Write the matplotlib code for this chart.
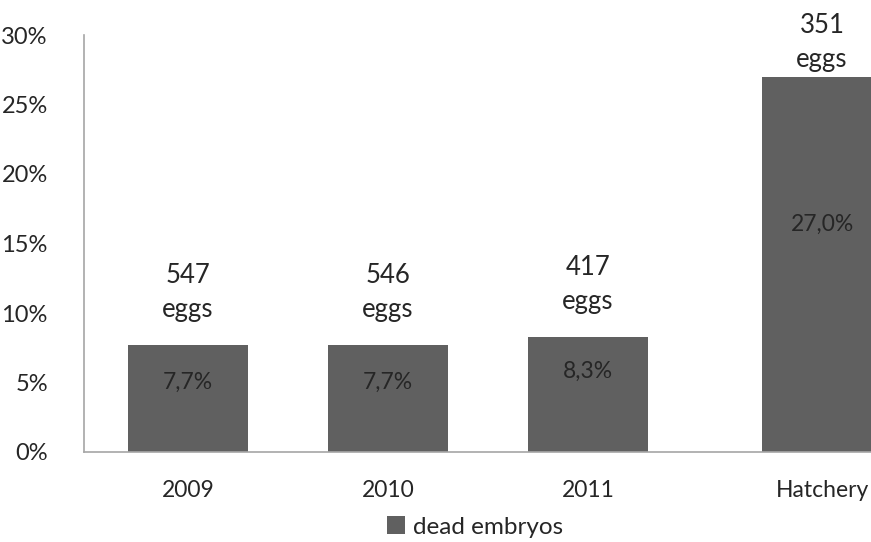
import numpy as np
import matplotlib
matplotlib.use("Agg")
import matplotlib.pyplot as plt

# Data
categories = ["2009", "2010", "2011", "Hatchery"]
dead_pct = [7.7, 7.7, 8.3, 27.0]
egg_counts = [547, 546, 417, 351]
value_labels = ["7,7%", "7,7%", "8,3%", "27,0%"]
y_ticks = [0, 5, 10, 15, 20, 25, 30]

# Layout
x = np.arange(len(categories), dtype=float)
x[-1] += 0.17
label_y = [5.0, 5.0, 5.8, 16.4]
count_gap = [20, 20, 20, 7]

plt.rcParams["font.family"] = ["Lato", "DejaVu Sans"]
text_color = "#262626"
bar_color = "#606060"
spine_color = "#a6a6a6"

fig = plt.figure(figsize=(8.71, 5.42), dpi=100)
ax = fig.add_axes([84 / 871, 90 / 542, 1 - 84 / 871, 417 / 542])

ax.bar(x, dead_pct, width=0.6, color=bar_color, label="dead embryos", zorder=2)

for xi, v, ly, lab, n, g in zip(x, dead_pct, label_y, value_labels, egg_counts, count_gap):
    ax.text(xi, ly, lab, ha="center", va="center", fontsize=16.5, color=text_color)
    ax.annotate(f"{n}\neggs", xy=(xi, v), xytext=(0, g), textcoords="offset points",
                ha="center", va="baseline", fontsize=18.5, color=text_color,
                linespacing=1.45, annotation_clip=False)

ax.set_xlim(-0.52, 3.415)
ax.set_ylim(0, 30)
ax.set_yticks(y_ticks)
ax.set_yticklabels([f"{t}%" for t in y_ticks])
ax.set_xticks(x)
ax.set_xticklabels(categories)
ax.tick_params(axis="y", length=0, pad=26, labelsize=17, colors=text_color)
ax.tick_params(axis="x", length=0, pad=20, labelsize=16.5, colors=text_color)

for s in ["top", "right"]:
    ax.spines[s].set_visible(False)
for s in ["left", "bottom"]:
    ax.spines[s].set_color(spine_color)
    ax.spines[s].set_linewidth(1.2)

leg = fig.legend(loc="center", bbox_to_anchor=(475 / 871, 1 - 527 / 542), frameon=False,
                 fontsize=17.5, handlelength=0.75, handleheight=0.75, handletextpad=0.3,
                 labelcolor=text_color)

fig.savefig("out.png", dpi=100, facecolor="white")
